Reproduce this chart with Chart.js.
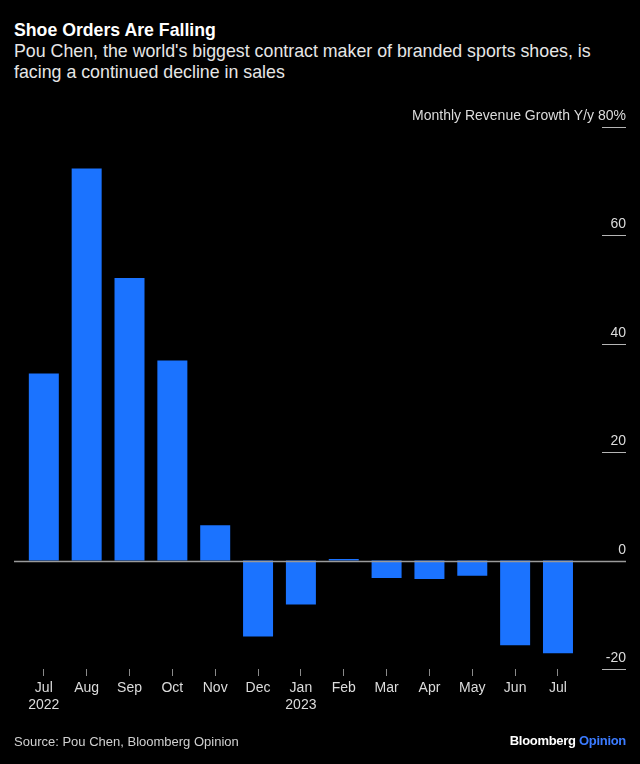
<!DOCTYPE html>
<html><head><meta charset="utf-8">
<script src="https://cdn.jsdelivr.net/npm/chart.js@4.4.0/dist/chart.umd.min.js"></script>
<style>
html,body{margin:0;padding:0;background:#000;}
#wrap{position:relative;width:640px;height:764px;overflow:hidden;font-family:"Liberation Sans",Arial,sans-serif;}
#title{position:absolute;left:14px;top:20px;font-weight:bold;font-size:17.7px;color:#fff;white-space:nowrap;}
#sub{position:absolute;left:14px;top:41px;font-size:17.8px;line-height:20.5px;color:#e6e6e6;width:610px;}
#source{position:absolute;left:14px;top:734px;font-size:13px;color:#d0d0d0;white-space:nowrap;}
#logo{position:absolute;right:14px;top:733px;font-size:13px;font-weight:bold;color:#fff;letter-spacing:-0.3px;white-space:nowrap;}
#logo span{color:#3b7bff;}
canvas{position:absolute;left:0;top:0;}
</style></head>
<body><div id="wrap">
<div id="title">Shoe Orders Are Falling</div>
<div id="sub">Pou Chen, the world's biggest contract maker of branded sports shoes, is<br>facing a continued decline in sales</div>
<canvas id="c" width="640" height="764"></canvas>
<div id="source">Source: Pou Chen, Bloomberg Opinion</div>
<div id="logo">Bloomberg <span>Opinion</span></div>
</div>
<script>
const months = ["Jul","Aug","Sep","Oct","Nov","Dec","Jan","Feb","Mar","Apr","May","Jun","Jul"];
const years = ["2022","","","","","","2023","","","","","",""];
const growth = [34.5, 72.3, 52.1, 36.9, 6.5, -14.0, -8.1, 0.3, -3.2, -3.4, -2.8, -15.6, -17.1];
const yTicks = [-20, 0, 20, 40, 60, 80];
const yTickLabels = ["-20", "0", "20", "40", "60", "Monthly Revenue Growth Y/y 80%"];

const FONT = '"Liberation Sans", Arial, sans-serif';
const labels = months.map((m, i) => years[i] ? [m, years[i]] : m);

const overlay = {
  id: 'overlay',
  afterDatasetsDraw(chart) {
    const ctx = chart.ctx;
    const y = chart.scales.y;
    ctx.save();
    // zero line
    const y0 = Math.round(y.getPixelForValue(0)) + 0.5;
    ctx.strokeStyle = '#9a9a9a';
    ctx.lineWidth = 1.3;
    ctx.beginPath(); ctx.moveTo(14, y0); ctx.lineTo(626, y0); ctx.stroke();
    // y ticks
    ctx.font = '14px ' + FONT;
    ctx.textAlign = 'right';
    ctx.textBaseline = 'alphabetic';
    yTicks.forEach((v, i) => {
      const py = Math.round(y.getPixelForValue(v)) + 0.5;
      if (v !== 0) {
        ctx.strokeStyle = '#b5b5b5';
        ctx.lineWidth = 1;
        ctx.beginPath(); ctx.moveTo(602, py); ctx.lineTo(626, py); ctx.stroke();
      }
      ctx.fillStyle = '#dcdcdc';
      ctx.fillText(yTickLabels[i], 626, py - 8);
    });
    ctx.restore();
  }
};

new Chart(document.getElementById('c'), {
  type: 'bar',
  data: {
    labels: labels,
    datasets: [{
      data: growth,
      backgroundColor: '#1b73ff',
      borderWidth: 0,
      categoryPercentage: 1,
      barPercentage: 0.7
    }]
  },
  options: {
    responsive: false,
    animation: false,
    layout: { padding: { left: 22.4, right: 60.6, top: 126.7, bottom: 45 } },
    plugins: { legend: { display: false }, tooltip: { enabled: false }, title: { display: false } },
    scales: {
      x: {
        offset: true,
        afterFit(s) { s.height = 50; },
        grid: { display: true, offset: false, drawOnChartArea: false, drawTicks: true, tickLength: 7, color: '#8a8a8a', lineWidth: 1 },
        border: { display: false },
        ticks: { color: '#dcdcdc', font: { size: 14, family: FONT, lineHeight: 1.22 }, padding: 4, maxRotation: 0, autoSkip: false }
      },
      y: {
        display: false,
        min: -20,
        max: 80
      }
    }
  },
  plugins: [overlay]
});
</script>
</body></html>
